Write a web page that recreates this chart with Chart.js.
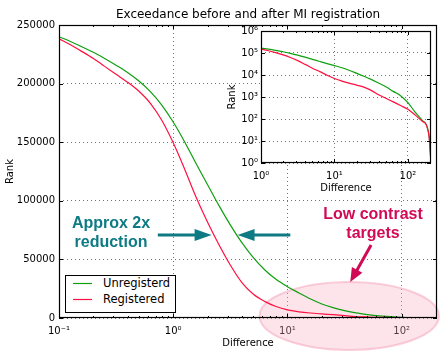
<!DOCTYPE html>
<html><head><meta charset="utf-8">
<script src="https://cdn.jsdelivr.net/npm/chart.js@4"></script>
<style>
html,body{margin:0;padding:0;background:#fff;}
#wrap{position:relative;width:447px;height:357px;overflow:hidden;background:#fff;}
#main{position:absolute;left:0;top:0;}
#inset{position:absolute;left:222px;top:25px;}
.note{position:absolute;font-family:"Liberation Sans",Arial,sans-serif;font-weight:bold;font-size:16px;text-align:center;white-space:nowrap;transform:translateX(-50%);}
#teal{left:111px;top:213px;line-height:19px;color:#0e7b84;}
#crim{left:373px;top:205px;line-height:18.5px;color:#d10a55;}
#legend{position:absolute;left:65px;top:275px;width:111px;height:38px;box-sizing:border-box;border:1px solid #000;background:#fff;font-family:"DejaVu Sans";font-size:11.5px;color:#000;}
#legend canvas{position:absolute;left:6px;top:0;}
#legend .tx{position:absolute;left:37px;line-height:14px;}
</style>
</head><body>
<div id="wrap">
<canvas id="main" width="447" height="357"></canvas>
<canvas id="inset" width="218" height="172"></canvas>
<div id="teal" class="note">Approx 2x<br>reduction</div>
<div id="crim" class="note">Low contrast<br>targets</div>
<div id="legend">
  <canvas id="legLines" width="22" height="34"></canvas>
  <div class="tx" style="top:0px">Unregisterd</div>
  <div class="tx" style="top:16px">Registered</div>
</div>
</div>
<script>
// ---- data ----
const diffUnreg = [0.1,0.126,0.158,0.2,0.251,0.316,0.398,0.501,0.631,0.794,1,1.26,1.58,2.0,2.51,3.16,3.98,5.01,6.31,7.94,10,12.6,15.8,20,25.1,31.6,39.8,50.1,63.1,79.4,100,126,158,178,195,204];
const rankUnreg = [240000,235900,231500,226700,221500,215700,209500,202200,193200,181700,167200,150200,132000,113700,96100,79500,64500,51700,41200,33000,26750,21400,16400,12000,8800,6300,4300,2900,1800,1150,550,200,85,55,15,2];
const diffReg = [0.1,0.126,0.158,0.2,0.251,0.316,0.398,0.501,0.631,0.794,1,1.26,1.58,2.0,2.51,3.16,3.98,5.01,6.31,7.94,10,12.6,15.8,20,25.1,31.6,39.8,50.1,63.1,79.4,100,126,158,178,195,204];
const rankReg = [238300,233100,227500,221400,214700,207950,201200,193450,183200,168700,149450,126950,103450,81700,62700,45200,30450,20450,14200,9800,6900,5300,4250,3475,2800,2000,1270,870,600,410,275,150,77,54,13,1.5];
const seriesNames = ['Unregisterd','Registered'];
const mainYTicks = [0,50000,100000,150000,200000,250000];

// annotation anchors in data space
const tealArrowRank = 70800;
const tealLeft = [0.733, 2.17];   // from -> tip
const tealRight = [10.6, 3.66];   // from -> tip
const crimArrow = [[54, 62300],[35.5, 30700]];
const ellipseBox = {dMin:5.7, dMax:212, rMin:-27300, rMax:30700};

const GREEN = '#0f9f0f', RED = '#ff1040';
const pts = (xs, ys) => xs.map((x,i)=>({x:x, y:ys[i]}));
const isPow10 = v => v>0 && Math.abs(Math.log10(v)-Math.round(Math.log10(v)))<1e-6;
const SUP = {'-':'⁻','0':'⁰','1':'¹','2':'²','3':'³','4':'⁴','5':'⁵','6':'⁶','7':'⁷','8':'⁸','9':'⁹'};
const powLabel = v => isPow10(v) ? '10' + String(Math.round(Math.log10(v))).split('').map(c=>SUP[c]).join('') : '';
function logTicks(lo, hi, minors){
  const out=[];
  for(let e=Math.floor(Math.log10(lo)); e<=Math.ceil(Math.log10(hi)); e++){
    for(let m=1;m<10;m++){
      if(!minors && m>1) continue;
      const v=+(m*Math.pow(10,e)).toPrecision(6);
      if(v>=lo*0.9999 && v<=hi*1.0001) out.push(v);
    }
  }
  return out;
}

// legend line samples
(function(){
  const c = document.getElementById('legLines').getContext('2d');
  c.lineWidth = 1.2;
  c.strokeStyle = GREEN; c.beginPath(); c.moveTo(1,7.5); c.lineTo(20,7.5); c.stroke();
  c.strokeStyle = RED; c.beginPath(); c.moveTo(1,23.5); c.lineTo(20,23.5); c.stroke();
})();

Chart.defaults.font.family = '"DejaVu Sans", sans-serif';
Chart.defaults.font.size = 10;
Chart.defaults.color = '#000';

const gridCfg = {color: c => (c.tick && isPow10(c.tick.value)) ? 'rgba(0,0,0,0.55)' : 'rgba(0,0,0,0)', lineWidth:1, drawTicks:false};
const gridLin = {color:'rgba(0,0,0,0.55)', lineWidth:1, drawTicks:false};
const borderCfg = {display:false, dash:[1,3]};

function fixX(h){ return s => { s.height = h; s.paddingLeft = 0; s.paddingRight = 0; }; }
function fixY(w){ return s => { s.width = w; s.paddingTop = 0; s.paddingBottom = 0; }; }

const framePlugin = {
  id:'frame',
  beforeDraw(chart, args, opts){
    if(opts.whiteArea){
      const a = chart.chartArea, ctx = chart.ctx;
      ctx.save(); ctx.fillStyle='#fff'; ctx.fillRect(a.left,a.top,a.width,a.height); ctx.restore();
    }
  },
  afterDraw(chart, args, opts){
    const {ctx, chartArea:a, scales} = chart;
    ctx.save();
    ctx.strokeStyle='#000'; ctx.lineWidth=1;
    ctx.beginPath();
    scales.x.ticks.forEach(t=>{
      const major = isPow10(t.value), len = major?4:2;
      const px = Math.round(scales.x.getPixelForValue(t.value))+0.5;
      if(px < a.left || px > a.right) return;
      ctx.moveTo(px,a.bottom); ctx.lineTo(px,a.bottom-len);
      ctx.moveTo(px,a.top); ctx.lineTo(px,a.top+len);
    });
    scales.y.ticks.forEach(t=>{
      const py = Math.round(scales.y.getPixelForValue(t.value))+0.5;
      ctx.moveTo(a.left,py); ctx.lineTo(a.left+4,py);
      ctx.moveTo(a.right,py); ctx.lineTo(a.right-4,py);
    });
    ctx.stroke();
    ctx.lineWidth = 1.2;
    ctx.strokeRect(a.left+0.5, a.top+0.5, a.width-1, a.height-1);
    ctx.restore();
  }
};

function arrow(ctx,x1,y1,x2,y2,color,w,hl,hw){
  const ang=Math.atan2(y2-y1,x2-x1), c=Math.cos(ang), s=Math.sin(ang);
  const bx=x2-hl*c, by=y2-hl*s;
  ctx.strokeStyle=color; ctx.lineWidth=w;
  ctx.beginPath(); ctx.moveTo(x1,y1); ctx.lineTo(bx+1*c,by+1*s); ctx.stroke();
  ctx.fillStyle=color; ctx.beginPath(); ctx.moveTo(x2,y2);
  ctx.lineTo(bx+hw*s, by-hw*c); ctx.lineTo(bx-hw*s, by+hw*c); ctx.closePath(); ctx.fill();
}

const annotPlugin = {
  id:'annot',
  beforeDatasetsDraw(chart){
    const {ctx, scales:{x,y}} = chart;
    const l=x.getPixelForValue(ellipseBox.dMin), r=x.getPixelForValue(ellipseBox.dMax);
    const t=y.getPixelForValue(ellipseBox.rMax), b=y.getPixelForValue(ellipseBox.rMin);
    ctx.save();
    ctx.beginPath();
    ctx.ellipse((l+r)/2,(t+b)/2,(r-l)/2,(b-t)/2,0,0,Math.PI*2);
    ctx.fillStyle='rgba(250,170,190,0.32)'; ctx.fill();
    ctx.strokeStyle='rgba(245,150,180,0.45)'; ctx.lineWidth=2; ctx.stroke();
    ctx.restore();
  },
  afterDraw(chart){
    const {ctx, scales:{x,y}} = chart;
    ctx.save();
    const ty = y.getPixelForValue(tealArrowRank);
    arrow(ctx, x.getPixelForValue(tealLeft[0]), ty, x.getPixelForValue(tealLeft[1]), ty, '#0e7b84', 3, 17, 6);
    arrow(ctx, x.getPixelForValue(tealRight[0]), ty, x.getPixelForValue(tealRight[1]), ty, '#0e7b84', 3, 17, 6);
    arrow(ctx, x.getPixelForValue(crimArrow[0][0]), y.getPixelForValue(crimArrow[0][1]),
               x.getPixelForValue(crimArrow[1][0]), y.getPixelForValue(crimArrow[1][1]), '#d10a55', 3, 14, 6);
    ctx.restore();
  }
};

const mkDatasets = () => [
  {label:seriesNames[1], data:pts(diffReg,rankReg), borderColor:RED, borderWidth:1.2, pointRadius:0, cubicInterpolationMode:'monotone', fill:false},
  {label:seriesNames[0], data:pts(diffUnreg,rankUnreg), borderColor:GREEN, borderWidth:1.2, pointRadius:0, cubicInterpolationMode:'monotone', fill:false}
];

new Chart(document.getElementById('main'), {
  type:'line',
  data:{datasets:mkDatasets()},
  options:{
    responsive:false, animation:false, devicePixelRatio:1,
    layout:{padding:{left:0,right:10,top:0,bottom:0}},
    plugins:{
      legend:{display:false}, tooltip:{enabled:false},
      title:{display:true, fullSize:false, text:'Exceedance before and after MI registration', color:'#000',
             font:{size:12, weight:'normal'}, padding:{top:8,bottom:2.6}},
      frame:{whiteArea:false}
    },
    scales:{
      x:{type:'logarithmic', min:0.1, max:204, bounds:'data',
         afterBuildTicks: s => { s.ticks = logTicks(0.1,204,true).map(v=>({value:v})); },
         afterFit: fixX(39),
         ticks:{callback:v=>powLabel(v), autoSkip:false, maxRotation:0, padding:7, font:{size:10}},
         grid:gridCfg, border:borderCfg,
         title:{display:true, text:'Difference', font:{size:10}, padding:{top:0,bottom:8}}},
      y:{type:'linear', min:0, max:250000,
         afterBuildTicks: s => { s.ticks = mainYTicks.map(v=>({value:v})); },
         afterFit: fixY(59),
         ticks:{callback:v=>String(v), padding:4, font:{size:10}},
         grid:gridLin, border:borderCfg,
         title:{display:true, text:'Rank', font:{size:10}, padding:{top:4,bottom:0}}}
    }
  },
  plugins:[framePlugin, annotPlugin]
});

new Chart(document.getElementById('inset'), {
  type:'line',
  data:{datasets:mkDatasets()},
  options:{
    responsive:false, animation:false, devicePixelRatio:1,
    layout:{padding:{left:0,right:9,top:6,bottom:0}},
    plugins:{legend:{display:false}, tooltip:{enabled:false}, title:{display:false}, frame:{whiteArea:true}},
    scales:{
      x:{type:'logarithmic', min:1, max:206, bounds:'data',
         afterBuildTicks: s => { s.ticks = logTicks(1,206,true).map(v=>({value:v})); },
         afterFit: fixX(34),
         ticks:{callback:v=>powLabel(v), autoSkip:false, maxRotation:0, padding:7, font:{size:10}},
         grid:gridCfg, border:borderCfg,
         title:{display:true, text:'Difference', font:{size:10}, padding:{top:0,bottom:3}}},
      y:{type:'logarithmic', min:1, max:1e6, bounds:'data',
         afterBuildTicks: s => { s.ticks = logTicks(1,1e6,false).map(v=>({value:v})); },
         afterFit: fixY(39),
         ticks:{callback:v=>powLabel(v), autoSkip:false, padding:3, font:{size:10}},
         grid:gridCfg, border:borderCfg,
         title:{display:true, text:'Rank', font:{size:10}, padding:{top:4,bottom:0}}}
    }
  },
  plugins:[framePlugin]
});
</script>
</body></html>
